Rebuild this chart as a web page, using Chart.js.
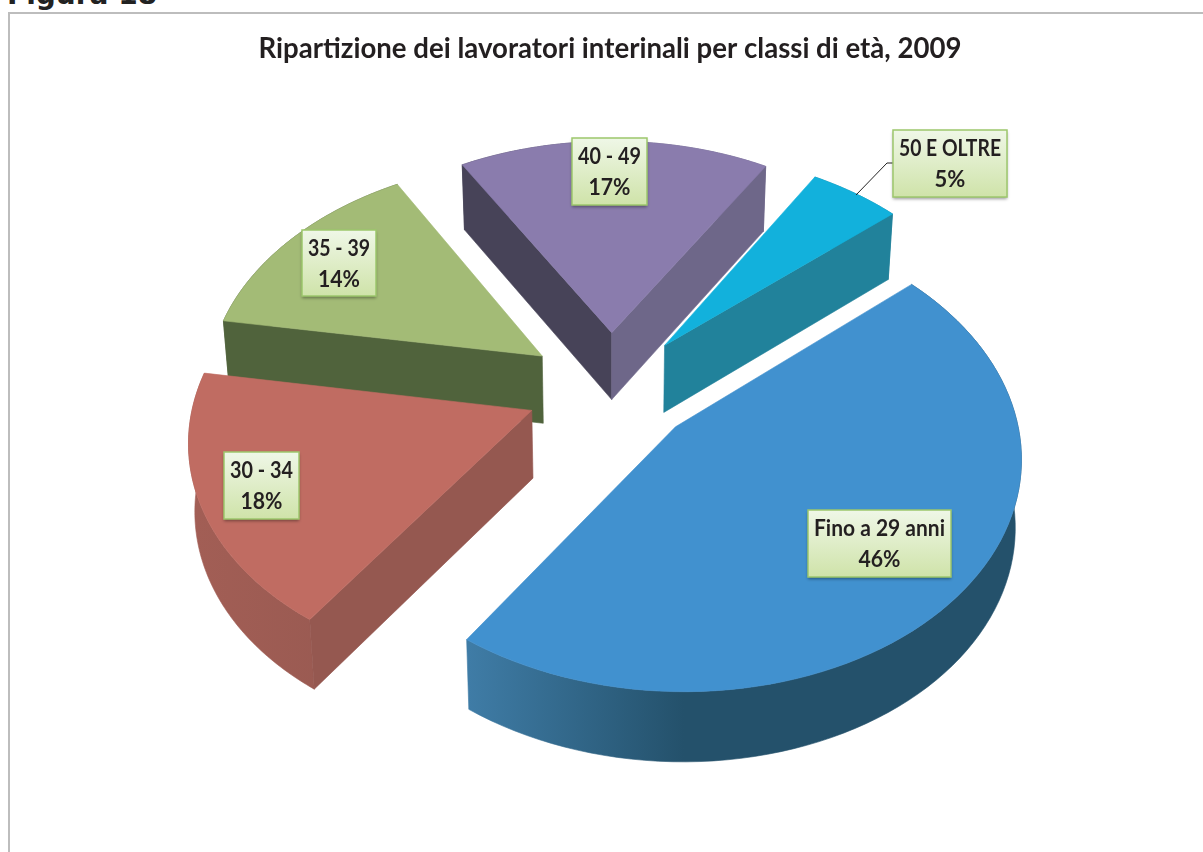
<!DOCTYPE html>
<html lang="it">
<head>
<meta charset="utf-8">
<title>Figura 18</title>
<script src="https://cdn.jsdelivr.net/npm/chart.js@4/dist/chart.umd.min.js"></script>
<style>
    html, body { margin: 0; padding: 0; background: #fff; overflow: hidden; width: 1203px; height: 852px; }
    #heading { position: absolute; left: 7px; top: -22px; font: bold 28px "DejaVu Sans", sans-serif; color: #222; white-space: nowrap; }
    #frame { position: absolute; left: 8px; top: 12px; width: 1300px; height: 900px; border: 2px solid #bdbdbd; }
    #pieChart { position: absolute; left: 0; top: 0; }
</style>
</head>
<body>
<div id="frame"></div>
<div id="heading">Figura 18</div>
<canvas id="pieChart" width="1220" height="852"></canvas>
<script>
const chartTitle = 'Ripartizione dei lavoratori interinali per classi di età, 2009';
const categories = ['Fino a 29 anni', '30 - 34', '35 - 39', '40 - 49', '50 E OLTRE'];
const shares = [46, 18, 14, 17, 5];

const topColors = ['#4191cf', '#c06c62', '#a3bb76', '#8a7cad', '#12b1dc'];
const startWallColors = ['#24516b', '#955850', '#50633c', '#474358', '#21829b'];
const endWallColors = ['#24516b', '#955850', '#50633c', '#6e6789', '#21829b'];
const rimLightColors = ['#3f7ca6', '#a25e55', '#50633c', '#474358', '#21829b'];
const rimDarkColors = ['#24516b', '#955850', '#50633c', '#6e6789', '#21829b'];
const drawOrder = [3, 4, 2, 1, 0];

// where the label boxes sit, left/top/width/height
const labelBoxes = [
    [808, 510, 143, 67],
    [224, 452, 75, 67],
    [302, 230, 74, 66],
    [572, 138, 75, 67],
    [893, 130, 114, 67],
];

// view used to fake the 3D pie
const view = { cx: 611, cy: 388, tilt: 0.67, persp: 0.00034, depth: 67.5, baseScale: 0.985 };

function project(u, v, bottom) {
    const w = 1 - v * view.persp;
    let x = view.cx + u / w;
    let y = view.cy + view.tilt * v / w;
    if (bottom) {
        x = view.cx + (x - view.cx) * view.baseScale;
        y += view.depth * (1 + v * 0.0001);
    }
    return [x, y];
}

function polygon(ctx, pts, fill) {
    ctx.beginPath();
    pts.forEach((p, i) => (i ? ctx.lineTo(p[0], p[1]) : ctx.moveTo(p[0], p[1])));
    ctx.closePath();
    ctx.fillStyle = fill;
    ctx.strokeStyle = fill;
    ctx.lineWidth = 0.6;
    ctx.fill();
    ctx.stroke();
}

function area(pts) {
    let sum = 0;
    pts.forEach((p, i) => {
        const q = pts[(i + 1) % pts.length];
        sum += p[0] * q[1] - q[0] * p[1];
    });
    return sum / 2;
}

function drawSlice(ctx, arc, i) {
    const { startAngle, endAngle, outerRadius } = arc.getProps(['startAngle', 'endAngle', 'outerRadius'], true);
    const offset = arc.options.offset;
    const mid = (startAngle + endAngle) / 2;
    const ox = Math.cos(mid) * offset;
    const oy = Math.sin(mid) * offset;

    const steps = 80;
    const rimTop = [];
    const rimBottom = [];
    for (let s = 0; s <= steps; s++) {
        const a = startAngle + (endAngle - startAngle) * s / steps;
        const u = ox + Math.cos(a) * outerRadius;
        const v = oy + Math.sin(a) * outerRadius;
        rimTop.push(project(u, v, false));
        rimBottom.push(project(u, v, true));
    }
    const apexTop = project(ox, oy, false);
    const apexBottom = project(ox, oy, true);

    // rim first, the walls and the top cover whatever faces away
    const rim = rimTop.concat(rimBottom.slice().reverse());
    const lows = rimBottom.map(p => p[0]);
    const left = Math.min(...lows);
    const grad = ctx.createLinearGradient(left, 0, left + 215, 0);
    grad.addColorStop(0, rimLightColors[i]);
    grad.addColorStop(1, rimDarkColors[i]);
    polygon(ctx, rim, grad);

    const startWall = [apexTop, rimTop[0], rimBottom[0], apexBottom];
    const endWall = [apexTop, rimTop[steps], rimBottom[steps], apexBottom];
    if (area(startWall) < 0) polygon(ctx, startWall, startWallColors[i]);
    if (area(endWall) > 0) polygon(ctx, endWall, endWallColors[i]);

    polygon(ctx, [apexTop].concat(rimTop), topColors[i]);
}

const pie3d = {
    id: 'pie3d',
    beforeDatasetsDraw(chart) {
        const arcs = chart.getDatasetMeta(0).data;
        drawOrder.forEach(i => drawSlice(chart.ctx, arcs[i], i));
        return false;
    },
    afterDraw(chart) {
        const ctx = chart.ctx;

        // leader line of the small slice
        ctx.save();
        ctx.strokeStyle = '#222';
        ctx.lineWidth = 1;
        ctx.beginPath();
        ctx.moveTo(856, 195);
        ctx.lineTo(887, 163);
        ctx.lineTo(893, 163);
        ctx.stroke();
        ctx.restore();

        labelBoxes.forEach((box, i) => {
            const [x, y, w, h] = box;
            const grad = ctx.createLinearGradient(0, y, 0, y + h);
            grad.addColorStop(0, '#eff7e7');
            grad.addColorStop(1, '#cfe3a9');
            ctx.save();
            ctx.shadowColor = 'rgba(0,0,0,0.4)';
            ctx.shadowBlur = 3;
            ctx.shadowOffsetY = 2;
            ctx.fillStyle = grad;
            ctx.fillRect(x, y, w, h);
            ctx.restore();
            ctx.strokeStyle = '#9dc76c';
            ctx.lineWidth = 1.5;
            ctx.strokeRect(x, y, w, h);

            ctx.fillStyle = '#231f20';
            ctx.font = 'bold 22px Lato, sans-serif';
            ctx.textAlign = 'center';
            ctx.textBaseline = 'alphabetic';
            ctx.fillText(categories[i], x + w / 2, y + 25.5, w - 12);
            ctx.fillText(shares[i] + '%', x + w / 2, y + 57, 42);
        });
    },
};

const pieData = {
    labels: categories,
    datasets: [
        {
            data: shares,
            backgroundColor: topColors,
            offset: 85,
            borderWidth: 0,
        },
    ],
};

const ctx = document.getElementById('pieChart').getContext('2d');
const chart = new Chart(ctx, {
    type: 'pie',
    data: pieData,
    plugins: [pie3d],
    options: {
        responsive: false,
        animation: false,
        events: [],
        rotation: 49.1,
        radius: 336,
        plugins: {
            legend: { display: false },
            tooltip: { enabled: false },
            title: {
                display: true,
                text: chartTitle,
                color: '#231f20',
                font: { family: 'Lato', size: 27.6, weight: 'bold' },
                padding: { top: 33, bottom: 10 },
            },
        },
    },
});
</script>
</body>
</html>
